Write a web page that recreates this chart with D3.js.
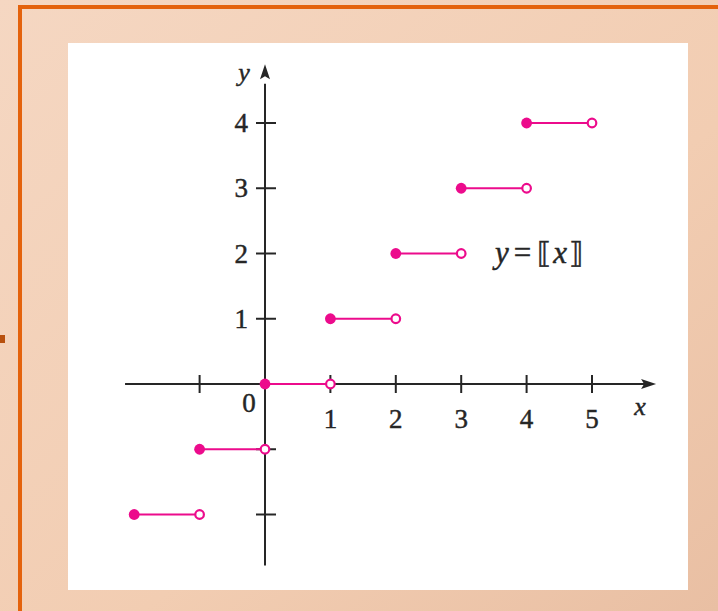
<!DOCTYPE html>
<html>
<head>
<meta charset="utf-8">
<script src="https://cdn.jsdelivr.net/npm/d3@7"></script>
<style>
  html, body { margin: 0; padding: 0; background: #f3d2bb; }
  svg { display: block; }
</style>
</head>
<body>
<svg id="chart" width="718" height="611"></svg>
<script>
// Greatest integer function y = [[x]] : one step per unit interval
const stepStarts = [-2, -1, 0, 1, 2, 3, 4];
const stepValues = [-2, -1, 0, 1, 2, 3, 4];
const xTickValues = [-1, 0, 1, 2, 3, 4, 5];
const xTickLabels = ["", "0", "1", "2", "3", "4", "5"];
const yTickValues = [-2, -1, 1, 2, 3, 4];
const yTickLabels = ["", "", "1", "2", "3", "4"];

const W = 718, H = 611;
const svg = d3.select("#chart");
const pink = "#ec0b8c";
const ink = "#262626";

// Background slide with a soft warm gradient
const defs = svg.append("defs");
const grad = defs.append("linearGradient").attr("id", "bg")
  .attr("x1", "0").attr("y1", "0").attr("x2", "1").attr("y2", "1");
grad.append("stop").attr("offset", "0").attr("stop-color", "#f5d7c2");
grad.append("stop").attr("offset", "0.6").attr("stop-color", "#f2cdb2");
grad.append("stop").attr("offset", "1").attr("stop-color", "#e9bfa3");
svg.append("rect").attr("width", W).attr("height", H).attr("fill", "url(#bg)");

// Orange frame lines
svg.append("rect").attr("x", 18).attr("y", 5).attr("width", W - 18).attr("height", 4).attr("fill", "#e4620c");
svg.append("rect").attr("x", 18).attr("y", 5).attr("width", 4).attr("height", H - 5).attr("fill", "#e4620c");
svg.append("rect").attr("x", 0).attr("y", 335).attr("width", 5).attr("height", 8).attr("fill", "#b8500e");

// White figure panel
svg.append("rect").attr("x", 68).attr("y", 43).attr("width", 620).attr("height", 547).attr("fill", "#ffffff");

// Scales
const x = d3.scaleLinear().domain([0, 5]).range([265, 592]);
const y = d3.scaleLinear().domain([0, 4]).range([384, 123]);

const serif = "'Liberation Serif', 'DejaVu Serif', serif";
const g = svg.append("g");

// Axis lines
g.append("line").attr("x1", x(-2.14)).attr("x2", x(5.8)).attr("y1", y(0)).attr("y2", y(0))
  .attr("stroke", ink).attr("stroke-width", 2);
g.append("line").attr("x1", x(0)).attr("x2", x(0)).attr("y1", y(-2.78)).attr("y2", y(4.6))
  .attr("stroke", ink).attr("stroke-width", 2);

// Arrow heads
const xa = x(5.98), ya = y(0);
g.append("path").attr("d", `M${xa},${ya} L${xa - 15},${ya - 5} L${xa - 12},${ya} L${xa - 15},${ya + 5} Z`).attr("fill", ink);
const yx = x(0), yt = y(4.9);
g.append("path").attr("d", `M${yx},${yt} L${yx - 5},${yt + 15} L${yx},${yt + 12} L${yx + 5},${yt + 15} Z`).attr("fill", ink);

// Ticks
g.selectAll(".xt").data(xTickValues.filter(v => v !== 0)).join("line")
  .attr("x1", d => x(d)).attr("x2", d => x(d)).attr("y1", y(0) - 9).attr("y2", y(0) + 9)
  .attr("stroke", ink).attr("stroke-width", 2);
g.selectAll(".yt").data(yTickValues).join("line")
  .attr("x1", x(0) - 9).attr("x2", x(0) + 11).attr("y1", d => y(d)).attr("y2", d => y(d))
  .attr("stroke", ink).attr("stroke-width", 2);

// Slightly heavier serif text
function styleText(sel, size) {
  return sel.attr("font-family", serif).attr("font-size", size).attr("fill", ink)
    .attr("stroke", ink).attr("stroke-width", 0.45);
}

// Tick labels
styleText(g.selectAll(".xl").data(xTickValues).join("text")
  .attr("x", d => d === 0 ? x(0) - 16 : x(d))
  .attr("y", d => d === 0 ? y(0) + 28 : y(0) + 44)
  .attr("text-anchor", "middle"), 27)
  .text((d, i) => xTickLabels[i]);
styleText(g.selectAll(".yl").data(yTickValues).join("text")
  .attr("x", x(0) - 17).attr("y", d => y(d) + 9)
  .attr("text-anchor", "end"), 27)
  .text((d, i) => yTickLabels[i]);

// Axis titles
styleText(g.append("text").attr("x", 640).attr("y", 415).attr("text-anchor", "middle")
  .attr("font-style", "italic"), 26).text("x");
styleText(g.append("text").attr("x", 244).attr("y", 81).attr("text-anchor", "middle")
  .attr("font-style", "italic"), 26).text("y");

// Steps
const steps = stepStarts.map((s, i) => ({ x0: s, x1: s + 1, v: stepValues[i] }));
const sg = svg.append("g");
sg.selectAll(".seg").data(steps).join("line")
  .attr("x1", d => x(d.x0)).attr("x2", d => x(d.x1))
  .attr("y1", d => y(d.v)).attr("y2", d => y(d.v))
  .attr("stroke", pink).attr("stroke-width", 2.2);
sg.selectAll(".closed").data(steps).join("circle")
  .attr("cx", d => x(d.x0)).attr("cy", d => y(d.v)).attr("r", 5.4).attr("fill", pink);
sg.selectAll(".open").data(steps).join("circle")
  .attr("cx", d => x(d.x1)).attr("cy", d => y(d.v)).attr("r", 4.3)
  .attr("fill", "#ffffff").attr("stroke", pink).attr("stroke-width", 2.2);

// Formula label
const f = styleText(svg.append("text").attr("x", 495).attr("y", 263), 31);
f.append("tspan").attr("font-style", "italic").text("y");
f.append("tspan").attr("dx", 5).text("=");
f.append("tspan").attr("dx", 6).attr("font-family", "'DejaVu Serif', serif").attr("font-size", 29).text("\u27E6");
f.append("tspan").attr("font-style", "italic").attr("dx", 2).text("x");
f.append("tspan").attr("dx", 2).attr("font-family", "'DejaVu Serif', serif").attr("font-size", 29).text("\u27E7");
</script>
</body>
</html>
